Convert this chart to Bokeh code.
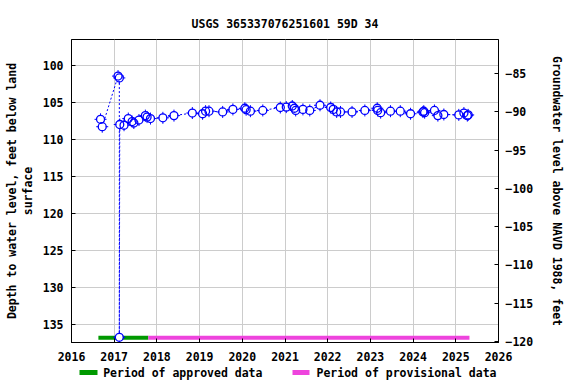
import math
from bokeh.plotting import figure
from bokeh.layouts import column
from bokeh.models import Range1d, LinearAxis, FixedTicker, ColumnDataSource
from bokeh.core.properties import value
from bokeh.embed import file_html
from bokeh.resources import INLINE

# ---- data (decimal years, depth below land surface in feet) ----
dates = [2016.68, 2016.72, 2017.09, 2017.12, 2017.12, 2017.13, 2017.23, 2017.33,
         2017.42, 2017.46, 2017.58, 2017.73, 2017.77, 2017.85, 2018.14, 2018.40,
         2018.83, 2019.07, 2019.14, 2019.22, 2019.54, 2019.78, 2020.06, 2020.09,
         2020.19, 2020.48, 2020.89, 2021.03, 2021.17, 2021.22, 2021.25, 2021.42,
         2021.58, 2021.82, 2022.07, 2022.13, 2022.21, 2022.30, 2022.57, 2022.87,
         2023.16, 2023.17, 2023.24, 2023.47, 2023.70, 2023.94, 2024.23, 2024.25,
         2024.27, 2024.50, 2024.58, 2024.72, 2025.07, 2025.19, 2025.27, 2025.29]
depths = [107.3, 108.3, 101.45, 101.7, 136.8, 108.0, 108.1, 107.2,
          107.6, 107.8, 107.4, 106.8, 107.0, 107.2, 107.1, 106.8,
          106.45, 106.55, 106.2, 106.2, 106.3, 105.96, 105.8, 106.0,
          106.2, 106.1, 105.7, 105.65, 105.5, 105.8, 106.1, 105.96,
          106.1, 105.4, 105.7, 105.96, 106.3, 106.3, 106.3, 106.1,
          105.8, 106.1, 106.4, 106.2, 106.2, 106.55, 106.3, 106.2,
          106.4, 106.1, 106.8, 106.65, 106.7, 106.45, 106.8, 106.7]
approved_period = [2016.63, 2017.80]
provisional_period = [2017.80, 2025.32]
x_ticks = list(range(2016, 2027))
left_ticks = [100, 105, 110, 115, 120, 125, 130, 135]
right_ticks = [-85, -90, -95, -100, -105, -110, -115, -120]
title_text = "USGS 365337076251601 59D 34"
left_label = "Depth to water level, feet below land\nsurface"
right_label = "Groundwater level above NAVD 1988, feet"
legend_labels = ["Period of approved data", "Period of provisional data"]

FONT = "DejaVu Sans Mono"
FS = "11.5px"
BAR_DEPTH = 136.85
GREEN = "#009900"
MAGENTA = "#ee44dd"
BLUE = "#0000ff"

p = figure(width=576, height=364, output_backend="svg", toolbar_location=None,
           x_range=Range1d(2016, 2026), y_range=Range1d(137.5, 96.5))
p.min_border_left = 71
p.min_border_right = 78
p.min_border_top = 39
p.min_border_bottom = 22
p.extra_y_ranges = {"gw": Range1d(-120.13, -80.55)}
p.outline_line_color = "black"

p.title.text = title_text
p.title.align = "center"
p.title.text_font = FONT
p.title.text_font_size = FS
p.title.text_font_style = "bold"
p.title.text_color = "black"
p.title.standoff = 18

def style_axis(ax):
    ax.major_label_text_font = FONT
    ax.major_label_text_font_size = FS
    ax.major_label_text_font_style = "bold"
    ax.major_label_text_color = "black"
    ax.axis_label_text_font = FONT
    ax.axis_label_text_font_size = FS
    ax.axis_label_text_font_style = "bold"
    ax.axis_label_text_color = "black"
    ax.minor_tick_line_color = None
    ax.axis_line_color = "black"
    ax.major_tick_line_color = "black"

xa = p.xaxis[0]
style_axis(xa)
xa.ticker = FixedTicker(ticks=x_ticks)
xa.major_tick_in = 4
xa.major_tick_out = 0
xa.major_label_standoff = 9

ya = p.yaxis[0]
style_axis(ya)
ya.ticker = FixedTicker(ticks=left_ticks)
ya.major_tick_in = 4
ya.major_tick_out = 0
ya.major_label_standoff = 8
ya.axis_label = left_label
ya.axis_label_standoff = 5
ya.axis_label_text_line_height = 1.15

ra = LinearAxis(y_range_name="gw")
style_axis(ra)
ra.ticker = FixedTicker(ticks=right_ticks)
ra.major_tick_in = 4
ra.major_tick_out = 0
ra.major_label_standoff = 7
ra.axis_label = right_label
ra.axis_label_standoff = 14
p.add_layout(ra, "right")

p.xgrid.ticker = FixedTicker(ticks=x_ticks)
p.ygrid.ticker = FixedTicker(ticks=left_ticks)
p.xgrid.grid_line_color = "#cccccc"
p.ygrid.grid_line_color = "#cccccc"

src = ColumnDataSource(dict(x=dates, y=depths))
p.line("x", "y", source=src, line_color=BLUE, line_width=1, line_dash="2 2")

p.line(approved_period, [BAR_DEPTH, BAR_DEPTH], line_color=GREEN, line_width=4)
p.line(provisional_period, [BAR_DEPTH, BAR_DEPTH], line_color=MAGENTA, line_width=4)

p.scatter("x", "y", source=src, marker="cross", size=12, line_color=BLUE, line_width=1)
p.scatter("x", "y", source=src, marker="circle", size=7, fill_color="white", line_color=None)
p.scatter("x", "y", source=src, marker="circle", size=8, fill_color=None, line_color=BLUE, line_width=1.3)

# ---- legend strip below the chart (page-pixel coordinates; its frame lines up with the chart's) ----
lg = figure(width=576, height=20, output_backend="svg", toolbar_location=None,
            x_range=Range1d(71, 498), y_range=Range1d(0, 20),
            min_border=0, outline_line_color=None)
lg.axis.visible = False
lg.grid.visible = False
lg.segment(x0=[79, 292], y0=[12, 12], x1=[97, 309], y1=[12, 12],
           line_color=[GREEN, MAGENTA], line_width=5)
lg.text(x=[102.7, 316], y=[12, 12], text=legend_labels,
        text_font=value(FONT), text_font_size=FS, text_font_style="bold",
        text_color="black", text_baseline="middle", text_align="left")

layout = column(p, lg, spacing=0)
open("out.html", "w").write(file_html(layout, INLINE))
